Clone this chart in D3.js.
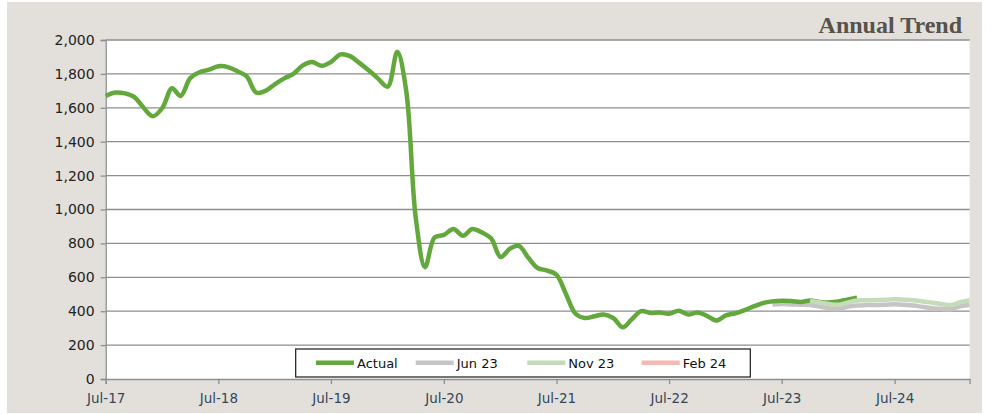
<!DOCTYPE html>
<html>
<head>
    <meta charset="UTF-8">
    <title>Annual Trend</title>
    <script src="https://d3js.org/d3.v7.min.js"></script>
    <style>
        body { margin: 0; background: #fff; }
        .tick text { font-family: "DejaVu Sans", sans-serif; }
    </style>
</head>
<body>
    <svg width="1002" height="414"></svg>
    <script>
        // monthly values, each series starts at its own month
        var actualStart = "2017-07";
        var actual = [1670, 1690, 1685, 1665, 1600, 1550, 1600, 1715, 1670, 1775, 1810, 1825,
                      1845, 1840, 1815, 1785, 1690, 1700, 1740, 1775, 1800, 1850, 1870, 1848,
                      1870, 1915, 1905, 1865, 1820, 1772, 1725, 1930, 1700, 950, 660, 835,
                      850, 885, 845, 885, 865, 830, 720, 770, 785, 715, 655, 640,
                      615, 500, 385, 360, 370, 380, 360, 305, 350, 400, 390, 392,
                      385, 403, 380, 393, 372, 345, 375, 388, 405, 428, 448, 458,
                      462, 460, 455, 463, 455, 452, 457, 470, 480];

        var jun23Start = "2023-06";
        var jun23 = [440, 442, 440, 438, 436, 428, 418, 413, 428, 434, 436, 437,
                     438, 441, 438, 433, 425, 418, 414, 413, 430, 437];

        var nov23Start = "2023-10";
        var nov23 = [460, 452, 442, 438, 452, 463, 464, 466, 467, 470, 468, 465,
                     457, 450, 442, 437, 455, 465];

        var feb24Start = "2024-02";
        var feb24 = [];

        var seriesNames = ["Actual", "Jun 23", "Nov 23", "Feb 24"];
        var seriesColors = ["#63a83c", "#c7c5c3", "#c4dcba", "#f3b9b2"];

        var yTicks = [0, 200, 400, 600, 800, 1000, 1200, 1400, 1600, 1800, 2000];
        var xTicks = ["2017-07", "2018-07", "2019-07", "2020-07", "2021-07", "2022-07", "2023-07", "2024-07"];
        var xDomain = ["2017-07", "2025-03"];

        var parseMonth = d3.timeParse("%Y-%m");

        function toPoints(start, values) {
            var s = parseMonth(start);
            return values.map(function(v, i) { return { date: d3.timeMonth.offset(s, i), value: v }; });
        }

        var svg = d3.select("svg");
        var plotLeft = 105.7, plotRight = 969.6, plotTop = 40, plotBottom = 379;

        // panel background
        svg.append("rect")
            .attr("x", 7).attr("y", 2)
            .attr("width", 975).attr("height", 411)
            .attr("fill", "#e3e0db");

        svg.append("rect")
            .attr("x", plotLeft).attr("y", plotTop)
            .attr("width", plotRight - plotLeft).attr("height", plotBottom - plotTop)
            .attr("fill", "#fff");

        svg.append("text")
            .attr("x", 962).attr("y", 33)
            .attr("text-anchor", "end")
            .style("font-family", "'Liberation Serif', serif")
            .style("font-weight", "bold")
            .style("font-size", "24px")
            .style("fill", "#57524a")
            .text("Annual Trend");

        var x = d3.scaleTime()
            .domain(xDomain.map(parseMonth))
            .range([plotLeft, plotRight]);

        var y = d3.scaleLinear()
            .domain([0, 2000])
            .range([plotBottom, plotTop]);

        // gridlines
        svg.append("g").selectAll("line")
            .data(yTicks.filter(function(d) { return d > 0; }))
            .enter().append("line")
            .attr("x1", plotLeft).attr("x2", plotRight)
            .attr("y1", function(d) { return y(d); })
            .attr("y2", function(d) { return y(d); })
            .attr("stroke", "#8e8e8e")
            .attr("stroke-width", 1.3);

        var yAxis = svg.append("g")
            .attr("transform", "translate(" + plotLeft + ",0)")
            .call(d3.axisLeft(y).tickValues(yTicks).tickFormat(d3.format(",")).tickSize(5).tickPadding(6));
        yAxis.selectAll("text").style("font-size", "14px").style("fill", "#222");

        var xAxis = svg.append("g")
            .attr("transform", "translate(0," + plotBottom + ")")
            .call(d3.axisBottom(x).tickValues(xTicks.map(parseMonth)).tickFormat(d3.timeFormat("%b-%y")).tickSize(5).tickPadding(9));
        xAxis.selectAll("text").style("font-size", "13.5px").style("fill", "#34465a");

        svg.selectAll(".domain, .tick line")
            .attr("stroke", "#8e8e8e")
            .attr("stroke-width", 1.3);

        var line = d3.line()
            .x(function(d) { return x(d.date); })
            .y(function(d) { return y(d.value); })
            .curve(d3.curveCatmullRom.alpha(0.5));

        // draw order: Jun 23 under Actual, Nov 23 and Feb 24 on top
        var drawn = [
            { data: toPoints(jun23Start, jun23), color: seriesColors[1] },
            { data: toPoints(actualStart, actual), color: seriesColors[0] },
            { data: toPoints(nov23Start, nov23), color: seriesColors[2] },
            { data: toPoints(feb24Start, feb24), color: seriesColors[3] }
        ];

        svg.append("g").selectAll("path")
            .data(drawn.filter(function(d) { return d.data.length > 1; }))
            .enter().append("path")
            .attr("d", function(d) { return line(d.data); })
            .attr("fill", "none")
            .attr("stroke", function(d) { return d.color; })
            .attr("stroke-width", 4.5)
            .attr("stroke-linejoin", "round");

        // legend
        var legend = svg.append("g");
        legend.append("rect")
            .attr("x", 295.7).attr("y", 349)
            .attr("width", 454.6).attr("height", 28)
            .attr("fill", "#fff")
            .attr("stroke", "#1a1a1a")
            .attr("stroke-width", 1.2);

        var itemX = [316, 415.7, 527.3, 641.7];
        var items = legend.selectAll(".item")
            .data(seriesNames)
            .enter().append("g")
            .attr("transform", function(d, i) { return "translate(" + itemX[i] + ",362.7)"; });

        items.append("line")
            .attr("x1", 0).attr("x2", 38)
            .attr("stroke", function(d, i) { return seriesColors[i]; })
            .attr("stroke-width", 4.5);

        items.append("text")
            .attr("x", 41).attr("y", 4.8)
            .style("font-family", "'DejaVu Sans', sans-serif")
            .style("font-size", "13px")
            .style("fill", "#111")
            .text(function(d) { return d; });
    </script>
</body>
</html>
